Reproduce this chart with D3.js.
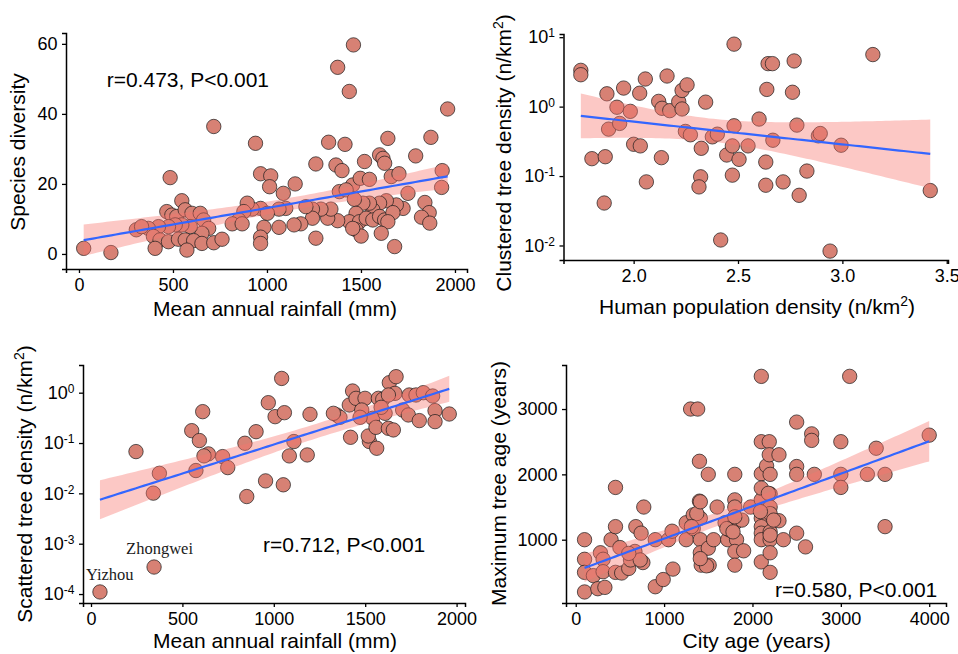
<!DOCTYPE html>
<html>
<head>
<meta charset="utf-8">
<script src="https://cdn.jsdelivr.net/npm/d3@7"></script>
<style>
  body { margin: 0; background: #fff; }
  svg { display: block; font-family: "Liberation Sans", Arial, sans-serif; }
</style>
</head>
<body>
<svg id="chart" width="958" height="654"></svg>
<script>
// ---- data ----
// (a) species diversity vs mean annual rainfall
const rainfallA = [25,170,305,1460,1376,1438,1961,717,939,1643,1328,1415,1872,
  1260,1367,1399,1519,1599,1617,1626,1791,1932,1929,
  485,966,1020,1014,1150,1087,547,
  1456,1496,1545,1661,1702,1750,1385,1421,1840,1863,
  1822,1866,1724,1688,1635,1599,1563,1545,1510,1465,
  1474,1438,1492,1528,1563,1599,1626,1670,1643,1474,
  1501,1608,1679,1456,1376,1323,1340,1287,1242,1242,
  1207,1180,1144,1064,1100,1064,1260,966,1002,984,
  966,966,921,895,877,850,815,868,467,494,
  520,565,601,645,663,690,654,592,547,512,
  476,423,369,333,396,431,476,405,529,565,
  610,654,717,761,574];
const diversity = [1.6,0.4,6.9,59.7,53.3,46.4,41.4,36.4,31.6,33,31.9,31.3,33.3,
  25.7,25.4,23.8,26.4,28.3,27.3,25.9,28,23.8,19,
  21.8,22.9,22.3,19.2,20,17.3,15.2,
  19.7,21.6,21.3,22.1,22.9,17.3,17.8,18.3,14.7,11.8,
  10.5,8.8,13,14,15.2,14.5,12.6,14.5,14.5,15.6,
  11.6,9.2,9.2,10.2,9.7,10.7,9.7,11.8,9.2,6.9,
  5.1,5.9,2.1,7.3,9.5,10.2,12.8,12.8,12.8,10.2,
  13.5,8.6,8.3,7.6,13,12.8,4.5,13,11.6,7.6,
  4.8,3,12.8,14.5,12.1,9.7,8.6,8.6,12.1,11.1,
  10.7,12.6,11.6,11.6,9.7,7.3,5.9,7.8,8.3,8.3,
  7.8,7.8,7.3,7.8,5,4,3.5,1.6,4.2,4,
  3.8,3,3.2,4.2,1.1];

// (b) clustered tree density vs human population density
const popDensity = [1.747,1.747,1.872,1.952,2.056,2.029,2.160,1.92,1.984,1.880,
  1.933,2.120,2.136,2.173,2.216,2.232,2.232,2.256,2.345,2.248,
  2.272,2.0,2.032,1.80,1.864,2.133,2.061,1.859,2.324,2.377,
  2.401,2.321,2.313,2.417,2.481,2.446,2.473,2.481,2.505,2.473,
  2.548,2.601,2.638,2.644,2.665,2.667,2.633,2.633,2.716,2.769,
  2.761,2.782,2.830,2.793,2.885,2.894,2.941,2.994,3.146,3.421];
const clusteredDensity = [3.33,2.88,1.53,1.85,2.5,1.56,2.76,0.98,0.855,0.474,
  0.573,1.19,0.946,0.875,1.18,0.925,1.71,2.06,1.16,0.439,
  0.393,0.287,0.272,0.178,0.19,0.184,0.0824,0.0409,0.251,0.367,
  0.401,0.0975,0.0698,0.012,7.94,0.201,0.272,0.53,0.174,0.103,
  0.272,0.662,1.77,4.16,4.16,0.328,0.159,0.0738,0.0824,4.55,
  1.61,0.542,0.118,0.0528,0.379,0.41,0.0083,0.278,5.62,0.0618];

// (c) scattered tree density vs mean annual rainfall (first two are labelled)
const rainfallB = [49,345,246,374,341,551,611,593,642,618,
  574,720,748,842,903,852,955,1052,970,1007,
  1058,1043,1110,1085,1183,1198,1344,1362,1413,1431,
  1450,1499,1420,1481,1523,1517,1563,1541,1559,1572,
  1596,1609,1627,1654,1632,1669,1663,1627,1705,1736,
  1741,1778,1818,1869,1796,1882,1882,1960,1587,1472,1326];
const scatteredDensity = [1.1e-4,3.44e-4,0.0676,0.025,0.0101,0.176,0.42,0.112,0.0608,0.0555,
  0.0284,0.0537,0.0325,0.0989,0.168,0.00865,0.0177,0.0148,0.633,0.334,
  0.401,1.92,0.107,0.0555,0.058,0.372,0.361,0.324,0.569,1.08,
  0.772,0.772,0.13,0.453,0.107,0.138,0.0787,0.31,0.205,0.772,
  0.738,0.389,0.196,0.182,1.58,2.08,0.97,0.9,0.453,0.361,
  0.9,0.9,1.0,0.859,0.279,0.44,0.266,0.377,0.512,0.324,0.389];
const cityLabels = ["Yizhou", "Zhongwei"];

// (d) maximum tree age vs city age
const cityAge = [100,100,100,100,200,250,330,280,310,310,
  400,450,450,450,500,520,600,620,660,680,
  740,760,770,900,900,990,1050,1090,1100,1250,
  1250,1300,1380,1330,1330,1400,1400,1410,1410,1410,
  1420,1510,1500,1500,1560,1600,1690,1720,1740,1800,
  1800,1800,1800,1820,1800,1800,1880,1900,1980,2100,
  2100,2100,2100,2100,2100,2100,2100,2100,2160,2190,
  2190,2200,2200,2200,2200,2200,2200,2200,2200,2300,
  2300,2350,2500,2500,2500,2500,2600,2670,2670,2700,
  3000,3000,3000,3100,3300,3400,3500,3500,4000,
  670,730,600,1370,1410,1310,1480,1410,1710,1800,1780,2100,2180,2240,2200,2090];
const maxTreeAge = [1000,700,500,200,450,250,270,800,700,510,
  1000,1200,1800,500,880,490,560,690,800,1200,
  1100,650,1500,1000,280,390,1000,1130,550,1260,
  1000,3000,3000,1380,1170,2200,1590,1330,1000,800,
  610,610,870,2000,1000,1500,1260,1000,1150,2000,
  1610,1500,1250,1000,820,610,1300,830,1500,3500,
  2500,2010,1610,1330,1200,1100,1000,660,2130,2500,
  2300,2000,1700,1500,1400,1120,1000,800,500,2300,
  1290,1000,2800,2120,2000,1100,890,2620,2520,2000,
  2500,2000,1800,3500,2000,2400,2000,1200,2600,
  820,690,790,1400,1580,1200,600,710,1170,1350,1120,1790,1710,1300,1070,1430];

// tick values
const rainTicks = [0, 500, 1000, 1500, 2000];
const diversityTicks = [0, 20, 40, 60];
const popTicks = [2.0, 2.5, 3.0, 3.5];
const clusteredTicks = [0.01, 0.1, 1, 10];
const scatteredTicks = [1e-4, 1e-3, 1e-2, 1e-1, 1];
const cityAgeTicks = [0, 1000, 2000, 3000, 4000];
const treeAgeTicks = [1000, 2000, 3000];

// ---- styling ----
const pointFill = "#d78174",
      ribbonFill = "#f8766d",
      lineColor = "#3366ff";

const svg = d3.select("#chart");

function tCrit(df) { return 1.96 + 2.4 / df; }  // close enough to qt(.975, df)

function linearFit(xs, ys) {
  var n = xs.length,
      mx = d3.mean(xs), my = d3.mean(ys),
      sxx = d3.sum(xs, x => (x - mx) * (x - mx)),
      sxy = d3.sum(xs, (x, i) => (x - mx) * (ys[i] - my)),
      b = sxy / sxx, a = my - b * mx,
      s = Math.sqrt(d3.sum(xs, (x, i) => Math.pow(ys[i] - a - b * x, 2)) / (n - 2)),
      t = tCrit(n - 2),
      [x0, x1] = d3.extent(xs);
  return d3.range(80).map(k => {
    var x = x0 + (x1 - x0) * k / 79,
        fit = a + b * x,
        se = s * Math.sqrt(1 / n + (x - mx) * (x - mx) / sxx);
    return {x: x, fit: fit, lo: fit - t * se, hi: fit + t * se};
  });
}

function powerLabel(text, v) {
  var e = Math.round(Math.log10(v));
  text.text("10").append("tspan")
    .attr("dy", "-0.5em").attr("font-size", "12px").text(e);
}

// text with a raised "2" (km²); shifts are in px so the baseline comes back exactly
function supText(sel, t) {
  sel.text(t.text);
  if (t.sup) {
    sel.append("tspan").attr("dy", -8).attr("font-size", "14px").text(t.sup);
    sel.append("tspan").attr("dy", 8).text(t.after);
  }
}

function drawPanel(p) {
  var x = d3.scaleLinear().domain(p.xDomain).range([p.left, p.right]),
      y = (p.log ? d3.scaleLog() : d3.scaleLinear()).domain(p.yDomain).range([p.bottom, p.top]),
      toFit = p.log ? Math.log10 : (v => v),
      fromFit = p.log ? (v => Math.pow(10, v)) : (v => v),
      g = svg.append("g"),
      pts = p.xs.map((v, i) => ({x: v, y: p.ys[i]})),
      fit = linearFit(p.xs, p.ys.map(toFit));

  g.append("g").selectAll("circle").data(pts).join("circle")
    .attr("cx", d => x(d.x))
    .attr("cy", d => y(d.y))
    .attr("r", 7.2)
    .attr("fill", pointFill)
    .attr("stroke", "#1a1a1a")
    .attr("stroke-width", 0.7);

  // confidence band sits on top of the points, then the fitted line
  g.append("path").datum(fit)
    .attr("d", d3.area().x(d => x(d.x)).y0(d => y(fromFit(d.lo))).y1(d => y(fromFit(d.hi))))
    .attr("fill", ribbonFill)
    .attr("fill-opacity", 0.4);
  g.append("path").datum(fit)
    .attr("d", d3.line().x(d => x(d.x)).y(d => y(fromFit(d.fit))))
    .attr("fill", "none")
    .attr("stroke", lineColor)
    .attr("stroke-width", 2.2);

  // axes
  var xAxis = g.append("g")
    .attr("transform", `translate(0,${p.bottom})`)
    .call(d3.axisBottom(x).tickValues(p.xTicks).tickSizeOuter(0).tickSize(4).tickPadding(5)
      .tickFormat(p.xFormat || d3.format("d")));
  var yAxis = g.append("g")
    .attr("transform", `translate(${p.left},0)`)
    .call(d3.axisLeft(y).tickValues(p.yTicks).tickSizeOuter(0).tickSize(4).tickPadding(4.5)
      .tickFormat(p.log ? () => "" : d3.format("d")));
  if (p.log) {
    yAxis.selectAll(".tick text").each(function (v) { powerLabel(d3.select(this), v); });
  }
  [xAxis, yAxis].forEach(ax => {
    ax.selectAll("path.domain").attr("stroke", "#000").attr("stroke-width", 1.5);
    ax.selectAll(".tick line").attr("stroke", "#000").attr("stroke-width", 1.3);
    ax.selectAll(".tick text").attr("fill", "#000").attr("font-size", "18px")
      .attr("font-family", "Liberation Sans, Arial, sans-serif");
  });

  // axis titles
  g.append("text")
    .attr("x", p.xTitle.x).attr("y", p.xTitle.y)
    .attr("text-anchor", "middle").attr("font-size", "21px").attr("fill", "#000")
    .call(supText, p.xTitle);
  g.append("text")
    .attr("transform", `translate(${p.yTitle.x},${p.yTitle.y}) rotate(-90)`)
    .attr("dy", "0.35em")
    .attr("text-anchor", "middle").attr("font-size", "21px").attr("fill", "#000")
    .call(supText, p.yTitle);

  if (p.note) {
    g.append("text")
      .attr("x", p.note.x).attr("y", p.note.y)
      .attr("font-size", "21px").attr("fill", "#000")
      .text(p.note.text);
  }
  return {g: g, x: x, y: y};
}

drawPanel({
  xs: rainfallA, ys: diversity, log: false,
  left: 66, right: 467, top: 33, bottom: 269,
  xDomain: [-69, 2064], yDomain: [-4.3, 63.1],
  xTicks: rainTicks, yTicks: diversityTicks,
  xTitle: {text: "Mean annual rainfall (mm)", x: 275, y: 316},
  yTitle: {text: "Species diversity", x: 17.5, y: 152},
  note: {text: "r=0.473, P<0.001", x: 106.7, y: 86.7}
});

drawPanel({
  xs: popDensity, ys: clusteredDensity, log: true,
  left: 563.5, right: 948, top: 34, bottom: 260,
  xDomain: [1.664, 3.506], yDomain: [Math.pow(10, -2.209), Math.pow(10, 1.046)],
  xTicks: popTicks, yTicks: clusteredTicks, xFormat: d3.format(".1f"),
  xTitle: {text: "Human population density (n/km", sup: "2", after: ")", x: 757, y: 313.5},
  yTitle: {text: "Clustered tree density (n/km", sup: "2", after: ")", x: 504, y: 153}
});

var p3 = drawPanel({
  xs: rainfallB, ys: scatteredDensity, log: true,
  left: 83, right: 465, top: 365, bottom: 603,
  xDomain: [-43.8, 2046], yDomain: [Math.pow(10, -4.178), Math.pow(10, 0.55)],
  xTicks: rainTicks, yTicks: scatteredTicks,
  xTitle: {text: "Mean annual rainfall (mm)", x: 275, y: 648},
  yTitle: {text: "Scattered tree density (n/km", sup: "2", after: ")", x: 25, y: 484},
  note: {text: "r=0.712, P<0.001", x: 263, y: 551.7}
});

// labels for the two outlying cities in panel (c)
p3.g.selectAll("text.city").data(cityLabels).join("text")
  .attr("class", "city")
  .attr("x", (d, i) => p3.x(rainfallB[i]) - (i === 0 ? 14 : 28))
  .attr("y", (d, i) => p3.y(scatteredDensity[i]) - (i === 0 ? 12 : 13))
  .attr("font-family", "Liberation Serif, Times New Roman, serif")
  .attr("font-size", "16.5px")
  .attr("fill", "#1a1a1a")
  .text(d => d);

drawPanel({
  xs: cityAge, ys: maxTreeAge, log: false,
  left: 566, right: 946, top: 365, bottom: 603,
  xDomain: [-110, 4190], yDomain: [31, 3674],
  xTicks: cityAgeTicks, yTicks: treeAgeTicks,
  xTitle: {text: "City age (years)", x: 756.7, y: 648},
  yTitle: {text: "Maximum tree age (years)", x: 498.5, y: 483.5},
  note: {text: "r=0.580, P<0.001", x: 775, y: 596.7}
});
</script>
</body>
</html>
